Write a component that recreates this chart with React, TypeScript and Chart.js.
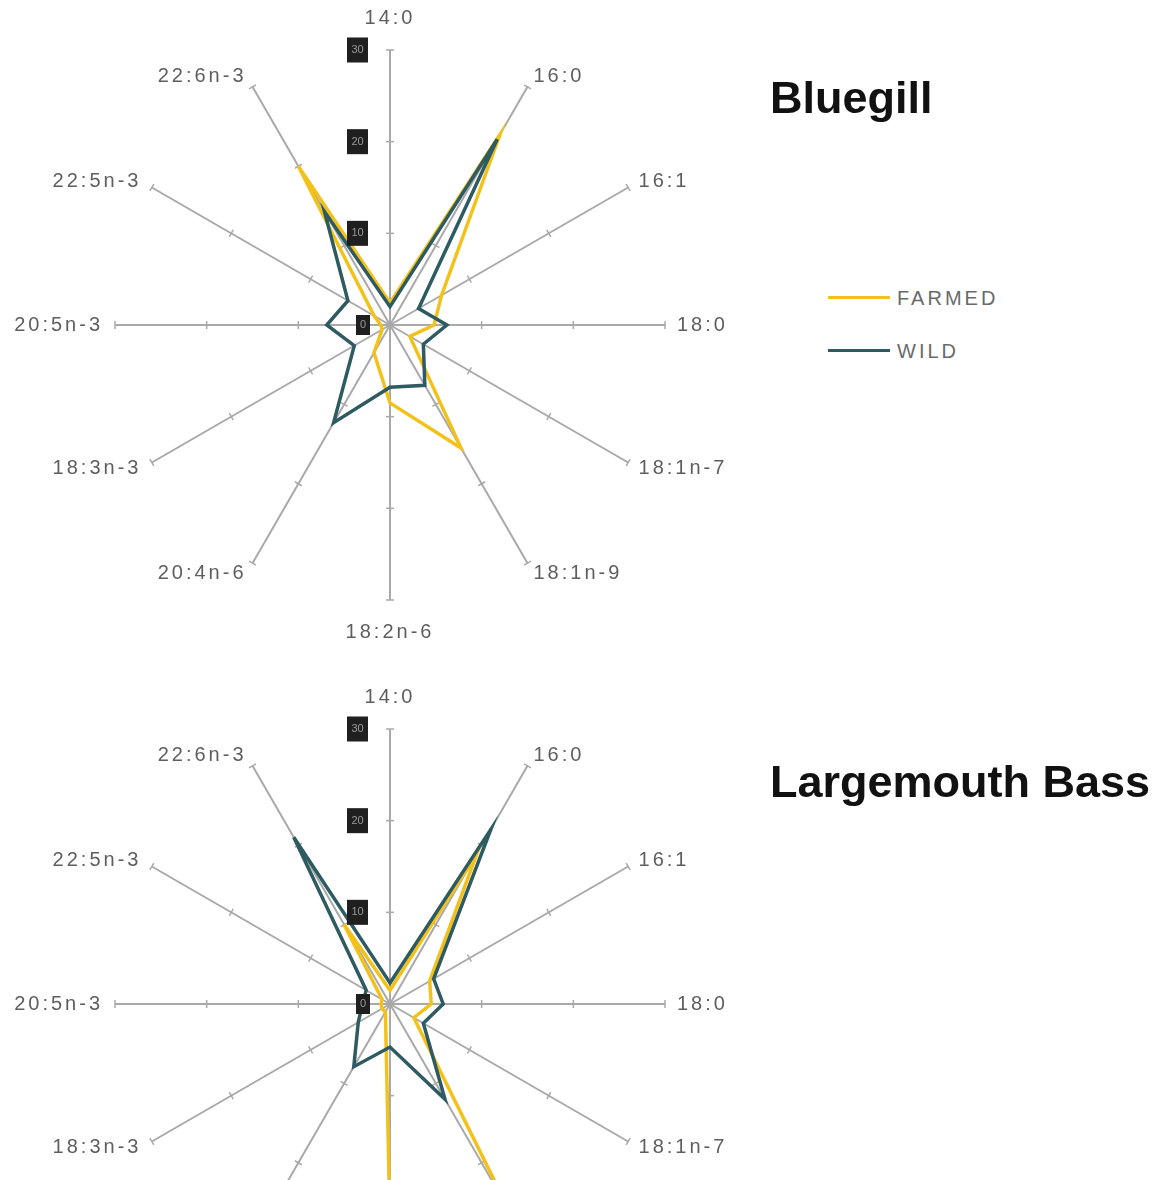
import React, { useEffect, useRef } from 'react';
import { Chart, registerables } from 'chart.js';

Chart.register(...registerables);

// ---- data ----
const categories = ['14:0', '16:0', '16:1', '18:0', '18:1n-7', '18:1n-9', '18:2n-6', '20:4n-6', '18:3n-3', '20:5n-3', '22:5n-3', '22:6n-3'];
const tickValues = [0, 10, 20, 30];
const seriesNames = ['FARMED', 'WILD'];

const bluegillFarmed = [2.4, 24, 6.5, 4.8, 2.5, 15.5, 8.5, 3.5, 1, 1, 2, 20];
const bluegillWild = [2.0, 23.4, 3.6, 6.2, 4.2, 7.6, 6.8, 12.3, 4.5, 6.9, 5.3, 14.3];
const bassFarmed = [1.5, 19, 5, 4.5, 3, 26, 24, 1, 1, 1, 1, 10];
const bassWild = [2.3, 22, 5.5, 5.8, 4.2, 12, 4.7, 7.9, 4, 3, 3, 21];

// ---- styles ----
const farmedColor = '#F2C21B';
const wildColor = '#2E5A62';
const spokeColor = '#a9a9a9';
const labelColor = '#5e5e5e';
const labelFont = '20px "Liberation Sans", Arial, sans-serif';

const decorPlugin = {
  id: 'decor',
  beforeDatasetsDraw(chart: any) {
    const scale = chart.scales.r;
    const ctx = chart.ctx;
    const n = chart.data.labels.length;
    ctx.save();
    // small tick marks on each spoke
    ctx.strokeStyle = spokeColor;
    ctx.lineWidth = 1.5;
    for (let i = 0; i < n; i++) {
      const a = scale.getIndexAngle(i) - Math.PI / 2;
      const px = -Math.sin(a);
      const py = Math.cos(a);
      for (const v of tickValues) {
        if (v === 0) continue;
        const p = scale.getPointPosition(i, scale.getDistanceFromCenterForValue(v));
        ctx.beginPath();
        ctx.moveTo(p.x + px * 4, p.y + py * 4);
        ctx.lineTo(p.x - px * 4, p.y - py * 4);
        ctx.stroke();
      }
    }
    // point labels
    const outer = scale.getDistanceFromCenterForValue(scale.max);
    ctx.font = labelFont;
    ctx.fillStyle = labelColor;
    ctx.textBaseline = 'middle';
    try { (ctx as any).letterSpacing = '3px'; } catch (e) {}
    for (let i = 0; i < n; i++) {
      const deg = Math.round((scale.getIndexAngle(i) * 180) / Math.PI) % 360;
      let p;
      if (deg === 0 || deg === 180) {
        p = scale.getPointPosition(i, outer + 32);
        ctx.textAlign = 'center';
      } else {
        p = scale.getPointPosition(i, outer + 12);
        ctx.textAlign = deg < 180 ? 'left' : 'right';
      }
      ctx.fillText(chart.data.labels[i], p.x, p.y);
    }
    try { (ctx as any).letterSpacing = '0px'; } catch (e) {}
    ctx.restore();
  },
  afterDatasetsDraw(chart: any) {
    const scale = chart.scales.r;
    const ctx = chart.ctx;
    ctx.save();
    ctx.font = '11px "Liberation Sans", Arial, sans-serif';
    ctx.textAlign = 'center';
    ctx.textBaseline = 'middle';
    for (const v of tickValues) {
      const d = scale.getDistanceFromCenterForValue(v);
      const y = scale.yCenter - d;
      const w = v === 0 ? 14 : 21;
      const h = v === 0 ? 20 : 25;
      const right = scale.xCenter - (v === 0 ? 20 : 22);
      ctx.fillStyle = '#1f1f1f';
      ctx.fillRect(right - w, y - h / 2, w, h);
      ctx.fillStyle = '#9a9a9a';
      ctx.fillText(String(v), right - w / 2, y);
    }
    ctx.restore();
  },
};

function Radar({ farmed, wild, top }: { farmed: number[]; wild: number[]; top: number }) {
  const ref = useRef<HTMLCanvasElement>(null);
  useEffect(() => {
    if (!ref.current) return;
    const chart = new Chart(ref.current, {
      type: 'radar',
      data: {
        labels: categories,
        datasets: [
          { label: seriesNames[0], data: farmed, borderColor: farmedColor, backgroundColor: 'transparent', borderWidth: 3.5, pointRadius: 0, fill: false, order: 1 },
          { label: seriesNames[1], data: wild, borderColor: wildColor, backgroundColor: 'transparent', borderWidth: 3.5, pointRadius: 0, fill: false, order: 0 },
        ],
      },
      options: {
        responsive: false,
        animation: false,
        layout: { padding: { left: 115, right: 115, top: 50, bottom: 50 } },
        plugins: { legend: { display: false }, tooltip: { enabled: false } },
        scales: {
          r: {
            min: 0,
            max: 30,
            ticks: { display: false, stepSize: 10 },
            grid: { display: false },
            angleLines: { display: true, color: spokeColor, lineWidth: 2 },
            pointLabels: { display: false },
          },
        },
      },
      plugins: [decorPlugin],
    } as any);
    return () => chart.destroy();
  }, [farmed, wild]);
  return <canvas ref={ref} width={780} height={650} style={{ position: 'absolute', left: 0, top, width: 780, height: 650 }} />;
}

const titleStyle: React.CSSProperties = {
  position: 'absolute',
  left: 770,
  fontFamily: '"Liberation Sans", Arial, sans-serif',
  fontWeight: 'bold',
  fontSize: 45,
  lineHeight: '45px',
  color: '#111',
  whiteSpace: 'nowrap',
};

const legendText: React.CSSProperties = {
  position: 'absolute',
  left: 897,
  fontFamily: '"Liberation Sans", Arial, sans-serif',
  fontSize: 20,
  lineHeight: '20px',
  letterSpacing: 3,
  color: '#6a6a6a',
};

export default function App() {
  return (
    <div style={{ position: 'absolute', left: 0, top: 0, width: 1156, height: 1180, overflow: 'hidden', background: '#fff' }}>
      <Radar farmed={bluegillFarmed} wild={bluegillWild} top={0} />
      <Radar farmed={bassFarmed} wild={bassWild} top={679} />
      <div style={{ ...titleStyle, top: 75 }}>Bluegill</div>
      <div style={{ ...titleStyle, top: 759 }}>Largemouth Bass</div>
      <div style={{ position: 'absolute', left: 828, top: 296, width: 62, height: 3, background: farmedColor }} />
      <div style={{ ...legendText, top: 288 }}>{seriesNames[0]}</div>
      <div style={{ position: 'absolute', left: 828, top: 349, width: 62, height: 3, background: wildColor }} />
      <div style={{ ...legendText, top: 341 }}>{seriesNames[1]}</div>
    </div>
  );
}
